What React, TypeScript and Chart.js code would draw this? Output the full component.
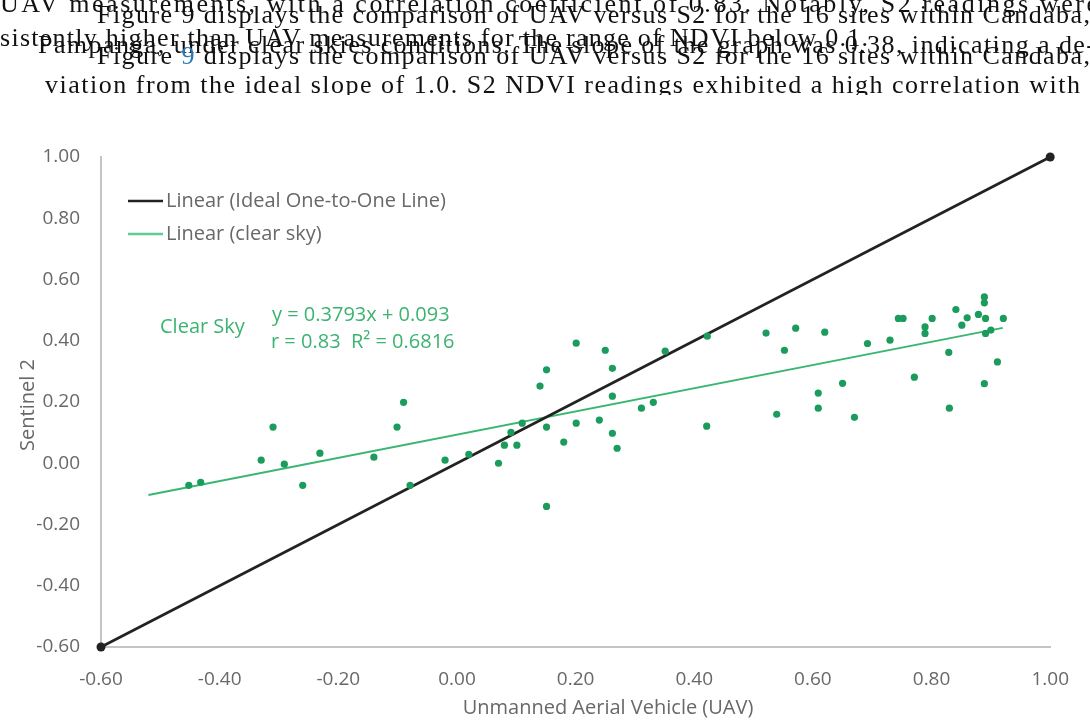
import React, { useEffect, useRef } from "react";
import { Chart, registerables } from "chart.js";

Chart.register(...registerables);

// ---------- data ----------
const uavX = [
  -0.452, -0.432, -0.33, -0.31, -0.291, -0.26, -0.231, -0.14, -0.101, -0.09, -0.079, -0.02, 0.02, 0.07, 0.08, 0.101,
  0.091, 0.11, 0.151, 0.14, 0.262, 0.262, 0.151, 0.201, 0.18, 0.24, 0.262, 0.27, 0.311, 0.331, 0.421, 0.539, 0.609,
  0.609, 0.65, 0.67, 0.771, 0.83, 0.889, 0.151, 0.201, 0.25, 0.351, 0.422, 0.521, 0.552, 0.571, 0.62, 0.692, 0.73,
  0.744, 0.752, 0.789, 0.789, 0.801, 0.829, 0.841, 0.851, 0.86, 0.879, 0.889, 0.889, 0.891, 0.891, 0.9, 0.921, 0.911,
];
const s2Y = [
  -0.072, -0.062, 0.01, 0.118, -0.003, -0.072, 0.033, 0.02, 0.118, 0.199, -0.072, 0.01, 0.029, 0.0, 0.059, 0.059,
  0.101, 0.131, 0.305, 0.252, 0.31, 0.219, 0.118, 0.131, 0.069, 0.141, 0.098, 0.049, 0.18, 0.199, 0.121, 0.16, 0.229,
  0.18, 0.261, 0.15, 0.281, 0.18, 0.26, -0.141, 0.392, 0.369, 0.366, 0.415, 0.425, 0.369, 0.441, 0.428, 0.391, 0.402,
  0.473, 0.473, 0.445, 0.424, 0.473, 0.362, 0.502, 0.451, 0.475, 0.486, 0.543, 0.524, 0.473, 0.424, 0.435, 0.473, 0.331,
];
const idealX = [-0.6, 1.0];
const idealY = [-0.6, 1.0];
const trendX = [-0.52, 0.92];
const trendY = [-0.104, 0.442];
const tickValues = [-0.6, -0.4, -0.2, 0.0, 0.2, 0.4, 0.6, 0.8, 1.0];

const legendLabels = ["Linear (Ideal One-to-One Line)", "Linear (clear sky)"];
const seriesLabel = "Clear Sky";
const equationLines = ["y = 0.3793x + 0.093", "r = 0.83  R\u00B2 = 0.6816"];
const xTitle = "Unmanned Aerial Vehicle (UAV)";
const yTitle = "Sentinel 2";

const bodyLines = [
  "UAV measurements, with a correlation coefficient of 0.83. Notably, S2 readings were",
  "Figure 9 displays the comparison of UAV versus S2 for the 16 sites within Candaba,",
  "sistently higher than UAV measurements for the range of NDVI below 0.1.",
  "Pampanga, under clear skies conditions. The slope of the graph was 0.38, indicating a de-",
  "Figure 9 displays the comparison of UAV versus S2 for the 16 sites within Candaba,",
  "viation from the ideal slope of 1.0. S2 NDVI readings exhibited a high correlation with",
];

// ---------- styles ----------
const FONT = "'Open Sans', sans-serif";
const TEXT = "#686868";
const AXIS = "#c4c4c4";
const POINT = "#1b9c5c";
const TREND = "#3ab673";
const LEGEND_TREND = "#5fcc98";
const IDEAL = "#222222";
const EQ = "#3cb371";

const bodyLayout = [
  { x: 0, y: 12, w: 1098 },
  { x: 97, y: 23, w: 993 },
  { x: 0, y: 46, w: 868 },
  { x: 38, y: 53, w: 1057 },
  { x: 97, y: 64, w: 993 },
  { x: 45, y: 93, w: 1035 },
];

const fmt = (v: number) => (Math.abs(v) < 1e-9 ? "0.00" : Number(v).toFixed(2));

const overlayPlugin = {
  id: "overlay",
  afterDraw(chart: any) {
    const { ctx, chartArea } = chart;
    const L = chartArea.left;
    const T = chartArea.top;
    const B = chartArea.bottom;
    ctx.save();
    ctx.font = `20px ${FONT}`;
    ctx.textBaseline = "middle";
    ctx.textAlign = "left";
    const legendColors = [IDEAL, LEGEND_TREND];
    legendLabels.forEach((label, i) => {
      const y = T + 44 + i * 33;
      ctx.strokeStyle = legendColors[i];
      ctx.lineWidth = 2.5;
      ctx.beginPath();
      ctx.moveTo(L + 27, y);
      ctx.lineTo(L + 62, y);
      ctx.stroke();
      ctx.fillStyle = TEXT;
      ctx.fillText(label, L + 65, y);
    });
    ctx.fillStyle = EQ;
    ctx.fillText(seriesLabel, L + 59, T + 170);
    ctx.fillText(equationLines[0], L + 171, T + 158);
    ctx.fillText(equationLines[1], L + 170, T + 185);

    ctx.fillStyle = TEXT;
    ctx.textAlign = "center";
    ctx.fillText(xTitle, L + 507, B + 61);
    ctx.translate(28, (T + B) / 2 + 3);
    ctx.rotate(-Math.PI / 2);
    ctx.fillText(yTitle, 0, 0);
    ctx.restore();
  },
};

export default function App() {
  const canvasRef = useRef<HTMLCanvasElement | null>(null);

  useEffect(() => {
    const canvas = canvasRef.current;
    if (!canvas) return;
    const pts = uavX.map((x, i) => ({ x, y: s2Y[i] }));
    const ideal = idealX.map((x, i) => ({ x, y: idealY[i] }));
    const trend = trendX.map((x, i) => ({ x, y: trendY[i] }));

    const chart = new Chart(canvas, {
      type: "scatter",
      data: {
        datasets: [
          {
            label: "Clear Sky",
            data: pts,
            backgroundColor: POINT,
            borderWidth: 0,
            pointRadius: 3.6,
            showLine: false,
          },
          {
            label: legendLabels[0],
            data: ideal,
            showLine: true,
            borderColor: IDEAL,
            borderWidth: 2.6,
            backgroundColor: IDEAL,
            pointRadius: 4.5,
            pointBorderWidth: 0,
            clip: false,
          } as any,
          {
            label: legendLabels[1],
            data: trend,
            showLine: true,
            borderColor: TREND,
            borderWidth: 2,
            pointRadius: 0,
          },
        ],
      },
      options: {
        animation: false,
        responsive: false,
        maintainAspectRatio: false,
        devicePixelRatio: 1,
        layout: { padding: { top: 157, right: 18, bottom: 0, left: 0 } },
        plugins: {
          legend: { display: false },
          tooltip: { enabled: false },
          title: { display: false },
        },
        scales: {
          x: {
            type: "linear",
            min: -0.6,
            max: 1.0,
            afterBuildTicks: (scale: any) => {
              scale.ticks = tickValues.map((v) => ({ value: v }));
            },
            afterFit: (scale: any) => {
              scale.height = 73;
            },
            grid: { display: false, drawTicks: false },
            border: { display: true, color: AXIS, width: 2 },
            ticks: {
              color: TEXT,
              font: { family: FONT, size: 19 },
              padding: 21,
              maxRotation: 0,
              autoSkip: false,
              callback: (v: any) => fmt(Number(v)),
            },
          },
          y: {
            type: "linear",
            min: -0.6,
            max: 1.0,
            afterBuildTicks: (scale: any) => {
              scale.ticks = tickValues.map((v) => ({ value: v }));
            },
            afterFit: (scale: any) => {
              scale.width = 101;
            },
            grid: { display: false, drawTicks: false },
            border: { display: true, color: AXIS, width: 2 },
            ticks: {
              color: TEXT,
              font: { family: FONT, size: 19 },
              padding: 21,
              autoSkip: false,
              callback: (v: any) => fmt(Number(v)),
            },
          },
        },
      },
      plugins: [overlayPlugin],
    });
    return () => chart.destroy();
  }, []);

  return (
    <div
      style={{
        position: "fixed",
        left: 0,
        top: 0,
        width: 1090,
        height: 720,
        background: "#ffffff",
        overflow: "hidden",
      }}
    >
      <canvas
        ref={canvasRef}
        width={1090}
        height={720}
        style={{ position: "absolute", left: 0, top: 0, width: 1090, height: 720 }}
      />
      <svg
        width={1090}
        height={95}
        style={{ position: "absolute", left: 0, top: 0, overflow: "hidden" }}
      >
        {bodyLines.map((line, i) => {
          const lay = bodyLayout[i];
          const parts = i === 4 ? line.split(/(?<=^Figure )9/) : [line];
          return (
            <text
              key={i}
              x={lay.x}
              y={lay.y}
              textLength={lay.w}
              fontFamily="'Liberation Serif', serif"
              fontSize={26}
              fill="#111"
            >
              {i === 4 ? (
                <>
                  {parts[0]}
                  <tspan fill="#2a7ab8">9</tspan>
                  {parts[1]}
                </>
              ) : (
                line
              )}
            </text>
          );
        })}
      </svg>
    </div>
  );
}
